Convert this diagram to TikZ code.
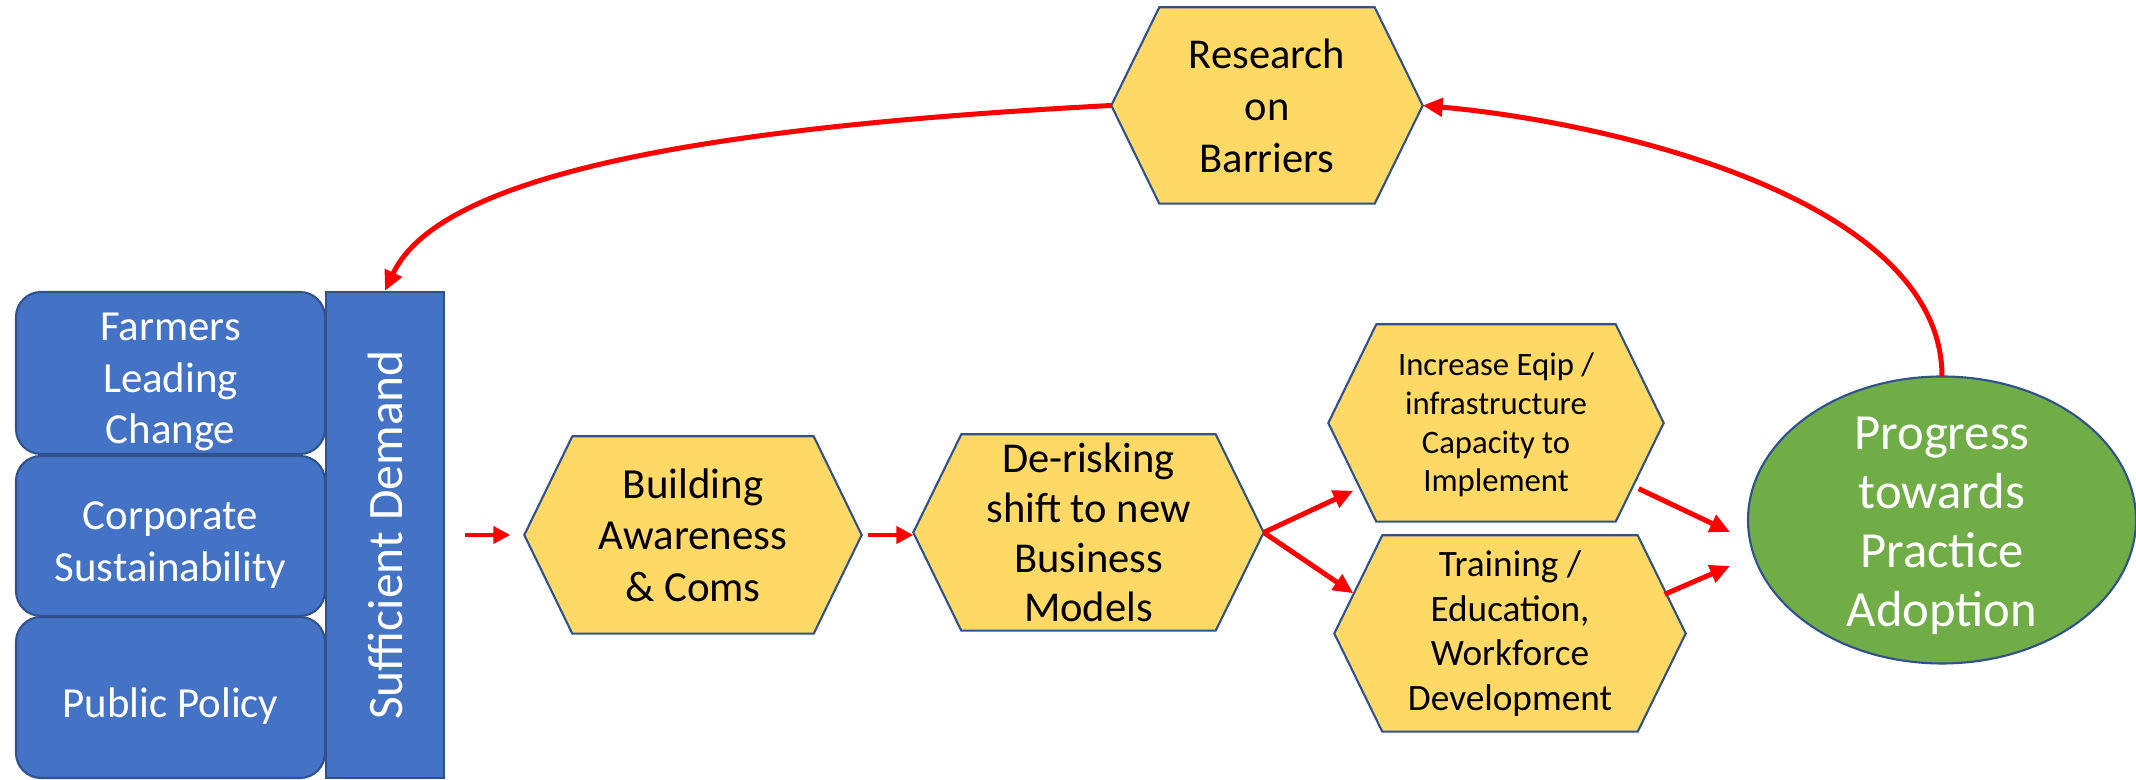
\documentclass[tikz,border=0pt]{standalone}
\usepackage{fontspec}
\setmainfont{Carlito}
\usepackage{tikz}
\usetikzlibrary{arrows.meta,shapes.geometric,backgrounds}
\definecolor{pptblue}{HTML}{4472C4}
\definecolor{pptedge}{HTML}{2F528F}
\definecolor{pptyellow}{HTML}{FFD966}
\definecolor{pptgreen}{HTML}{70AD47}
\newcommand{\hexoutline}[1]{%
  \draw[hexline] (#1.west) -- ([xshift=4.8mm]#1.north west) -- ([xshift=-4.8mm]#1.north east)
    -- (#1.east) -- ([xshift=-4.8mm]#1.south east) -- ([xshift=4.8mm]#1.south west) -- cycle;}

\begin{document}
\begin{tikzpicture}[x=0.1mm, y=0.1mm,
    bluebox/.style={draw=pptedge, line width=0.6pt, fill=pptblue, rounded corners=2.5mm,
        inner sep=0pt, minimum width=30.9mm},
    bluetext/.style={text=white, align=center, inner sep=0pt, yshift=-0.9mm,
        font=\fontsize{12.2}{14.6}\selectfont},
    hexbox/.style={inner sep=0pt},
    hextext/.style={text=black, align=center, inner sep=0pt},
    hexline/.style={draw=pptedge, line width=0.6pt, fill=pptyellow},
    redarrow/.style={draw=red, line width=0.5mm, -{Triangle[length=2mm,width=1.8mm]}},
    shortarrow/.style={draw=red, line width=0.4mm, -{Triangle[length=1.7mm,width=1.7mm]}}]
    \useasboundingbox (0,0) rectangle (2136,-780);

    % Demand drivers on the left
    \node[bluebox, minimum height=16.2mm, label={[bluetext]center:Farmers\\Leading\\Change}]
        (farm) at (170.5,-373) {};
    \node[bluebox, minimum height=16.0mm, label={[bluetext]center:Corporate\\Sustainability}]
        (corp) at (170.5,-536) {};
    \node[bluebox, minimum height=16.1mm, label={[bluetext]center:Public Policy}]
        (pol) at (170.5,-697.5) {};
    \node[draw=pptedge, line width=0.6pt, fill=pptblue, text=white, inner sep=0pt,
        minimum width=11.8mm, minimum height=48.6mm, font=\fontsize{14.1}{17}\selectfont]
        (dem) at (385,-535) {\rotatebox{90}{Sufficient Demand}};

    % Hexagon steps
    \node[hexbox, minimum width=31.0mm, minimum height=19.5mm,
        label={[hextext, font=\fontsize{12.1}{14.8}\selectfont]center:Research\\on\\Barriers}]
        (res) at (1267,-105.5) {};
    \node[hexbox, minimum width=33.6mm, minimum height=19.6mm,
        label={[hextext, font=\fontsize{12.2}{14.6}\selectfont]center:Building\\Awareness\\\& Coms}]
        (build) at (693,-535) {};
    \node[hexbox, minimum width=34.9mm, minimum height=19.5mm,
        label={[hextext, font=\fontsize{12.1}{14.2}\selectfont]center:De-risking\\shift to new\\Business\\Models}]
        (derisk) at (1088.5,-532.5) {};
    \node[hexbox, minimum width=33.4mm, minimum height=19.6mm,
        label={[hextext, yshift=-0.2mm, font=\fontsize{9.3}{11}\selectfont]center:Increase Eqip /\\infrastructure\\Capacity to\\Implement}]
        (inc) at (1496,-423) {};
    \node[hexbox, minimum width=35.0mm, minimum height=19.5mm,
        label={[hextext, font=\fontsize{10.6}{12.7}\selectfont]center:Training /\\Education,\\Workforce\\Development}]
        (train) at (1510,-633.5) {};

    % Goal
    \node[ellipse, draw=pptedge, line width=0.6pt, fill=pptgreen, inner sep=0pt, outer sep=0pt,
        minimum width=38.8mm, minimum height=28.7mm,
        label={[text=white, align=center, yshift=-0.6mm, font=\fontsize{14.4}{16.8}\selectfont]center:Progress\\towards\\Practice\\Adoption}]
        (prog) at (1942,-520) {};

    \begin{scope}[on background layer]
        \foreach \hx in {res,build,derisk,inc,train}
            \hexoutline{\hx};
    \end{scope}

    % Flow arrows
    \draw[shortarrow] ([xshift=2mm]dem.east) -- ([xshift=-1.4mm]build.west);
    \draw[shortarrow] ([xshift=0.6mm]build.east) -- (derisk.west |- build.east);
    \draw[redarrow] (derisk.east) -- ([shift={(2.5mm,3.1mm)}]inc.south west);
    \draw[redarrow] (derisk.east) -- ([shift={(1.9mm,-5.8mm)}]train.north west);
    \draw[redarrow] ([shift={(-2.5mm,3.3mm)}]inc.south east) -- ([shift={(-1.8mm,-1.2mm)}]prog.west);
    \draw[redarrow] ([shift={(-2.1mm,-5.9mm)}]train.north east) -- ([shift={(-1.8mm,-4.6mm)}]prog.west);

    % Feedback loop
    \draw[redarrow] (prog.north) .. controls +(90:180) and +(-5:180) .. (res.east);
    \draw[redarrow] (res.west) .. controls +(183:400) and +(65:130) .. (dem.north);
\end{tikzpicture}
\end{document}
